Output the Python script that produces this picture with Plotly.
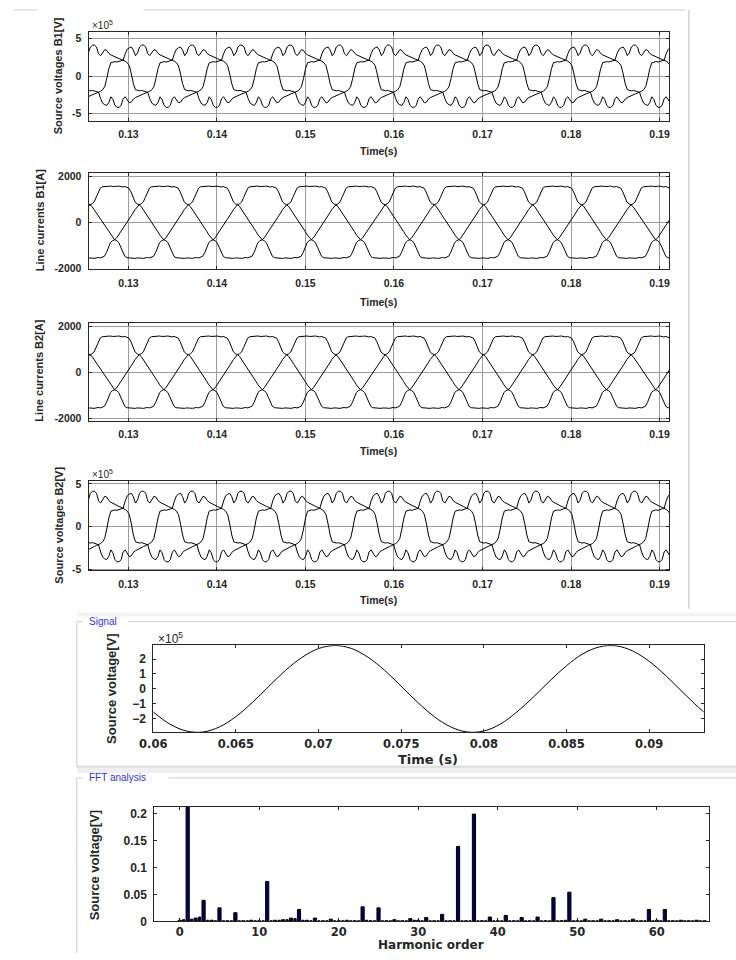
import numpy as np
import plotly.graph_objects as go

W, H = 736, 960

# ---------------- data ----------------
F_HZ = 60.0
SAMPLES_PER_PERIOD = 72          # one sample every 5 electrical degrees
N_PERIODS = 5
PHASE_SHIFT_SAMPLES = 24         # 120 degrees

V_PHASE_E5 = [
    1.80, 1.90, 1.95, 1.90, 2.00, 2.10, 2.15, 3.00, 3.60, 3.80, 3.90, 3.50,
    2.75, 3.10, 3.90, 4.15, 4.15, 3.90, 3.00, 2.75, 3.20, 3.55, 3.45, 3.05,
    2.85, 2.70, 2.55, 2.45, 2.35, 2.25, 2.15, 2.00, 1.80, 1.40, 0.30, -1.00,
    -1.80, -1.90, -1.95, -1.90, -2.00, -2.10, -2.15, -3.00, -3.60, -3.80, -3.90, -3.50,
    -2.75, -3.10, -3.90, -4.15, -4.15, -3.90, -3.00, -2.75, -3.20, -3.55, -3.45, -3.05,
    -2.85, -2.70, -2.55, -2.45, -2.35, -2.25, -2.15, -2.00, -1.80, -1.40, -0.30, 1.00,
]
I_PHASE_A = [
    0, 130, 260, 400, 550, 680, 760, 800, 880, 1080, 1320, 1480,
    1540, 1550, 1530, 1560, 1570, 1550, 1540, 1560, 1570, 1550, 1530, 1550,
    1530, 1480, 1320, 1080, 880, 800, 760, 680, 550, 400, 260, 130,
    0, -130, -260, -400, -550, -680, -760, -800, -880, -1080, -1320, -1480,
    -1540, -1550, -1530, -1560, -1570, -1550, -1540, -1560, -1570, -1550, -1530, -1550,
    -1530, -1480, -1320, -1080, -880, -800, -760, -680, -550, -400, -260, -130,
]
V_T0 = 0.12802   # time of sample 0 of phase a voltage
I_T0 = 0.12983   # time of sample 0 of phase a current

TIME_TICKS = [0.13, 0.14, 0.15, 0.16, 0.17, 0.18, 0.19]
TIME_TICK_TEXT = ["0.13", "0.14", "0.15", "0.16", "0.17", "0.18", "0.19"]
V_TICKS = [-5, 0, 5]
V_TICK_TEXT = ["-5", "0", "5"]
I_TICKS = [-2000, 0, 2000]
I_TICK_TEXT = ["-2000", "0", "2000"]

SIGNAL_T = [0.060, 0.061, 0.062, 0.063, 0.064, 0.065, 0.066, 0.067, 0.068, 0.069,
            0.070, 0.071, 0.072, 0.073, 0.074, 0.075, 0.076, 0.077, 0.078, 0.079,
            0.080, 0.081, 0.082, 0.083, 0.084, 0.085, 0.086, 0.087, 0.088, 0.089,
            0.090, 0.091, 0.092, 0.093, 0.0935]
SIGNAL_V_E5 = [-1.54, -2.35, -2.81, -2.88, -2.54, -1.85, -0.90, 0.18, 1.24, 2.11,
               2.70, 2.90, 2.70, 2.11, 1.24, 0.18, -0.90, -1.85, -2.54, -2.88,
               -2.81, -2.35, -1.54, -0.54, 0.54, 1.55, 2.35, 2.81, 2.88, 2.54,
               1.85, 0.90, -0.18, -1.24, -1.72]
SIGNAL_XTICKS = [0.06, 0.065, 0.07, 0.075, 0.08, 0.085, 0.09]
SIGNAL_XTICK_TEXT = ["0.06", "0.065", "0.07", "0.075", "0.08", "0.085", "0.09"]
SIGNAL_YTICKS = [-2, -1, 0, 1, 2]
SIGNAL_YTICK_TEXT = ["\u22122", "\u22121", "0", "1", "2"]

HARM_ORDER = list(range(0, 67))
HARM_MAG = [0.002, 0.25, 0.006, 0.039, 0.002, 0.025, 0.001, 0.016, 0.001, 0.002,
            0.001, 0.074, 0.002, 0.003, 0.006, 0.022, 0.002, 0.006, 0.001, 0.004,
            0.001, 0.002, 0.001, 0.027, 0.001, 0.025, 0.001, 0.003, 0.001, 0.005,
            0.002, 0.007, 0.001, 0.013, 0.001, 0.139, 0.001, 0.199, 0.001, 0.008,
            0.001, 0.011, 0.001, 0.007, 0.001, 0.008, 0.001, 0.044, 0.001, 0.054,
            0.001, 0.004, 0.001, 0.004, 0.001, 0.003, 0.001, 0.004, 0.001, 0.022,
            0.002, 0.022, 0.001, 0.002, 0.001, 0.002, 0.001]
HALF_ORDER = [k + 0.5 for k in range(66)]
HALF_MAG = [0.003, 0.004, 0.008, 0.002, 0.001, 0.001, 0.001, 0.001, 0.001, 0.001,
            0.001, 0.001, 0.002, 0.003, 0.005, 0.002, 0.001, 0.001, 0.001, 0.001,
            0.001, 0.001, 0.001, 0.002, 0.001, 0.001, 0.001, 0.001, 0.001, 0.002,
            0.001, 0.001, 0.001, 0.001, 0.001, 0.001, 0.001, 0.001, 0.001, 0.001,
            0.001, 0.001, 0.001, 0.001, 0.001, 0.001, 0.001, 0.001, 0.002, 0.001,
            0.001, 0.001, 0.001, 0.001, 0.001, 0.001, 0.001, 0.001, 0.001, 0.001,
            0.001, 0.001, 0.001, 0.001, 0.001, 0.001]
FFT_XTICKS = [0, 10, 20, 30, 40, 50, 60]
FFT_YTICKS = [0, 0.05, 0.1, 0.15, 0.2]
FFT_YTICK_TEXT = ["0", "0.05", "0.1", "0.15", "0.2"]

# ---------------- layout helpers ----------------
def px_x(p):
    return p / W


def px_y(p):
    return 1 - p / H


TXT = "#262626"
BOLD_FONT = "Liberation Sans, Arial, sans-serif"
WIDE_FONT = "DejaVu Sans, sans-serif"
NARROW_FONT = "Liberation Sans Narrow, Liberation Sans, sans-serif"

fig = go.Figure()

# panels: (x0, x1, y0, y1) in pixels
PANELS = {
    1: (76, 668, 29, 119),
    2: (76, 668, 172, 269),
    3: (76, 668, 323, 422),
    4: (76, 668, 483, 573),
    5: (142, 703, 649, 737),
    6: (143, 708, 812, 928),
}


def ax_name(i, kind):
    return kind if i == 1 else f"{kind}{i}"


layout_axes = {}


def add_axes(i, xr, yr, xt, xtt, yt, ytt, grid, xfont, yfont, xstand, ystand, ticklen):
    x0, x1, y0, y1 = PANELS[i]
    common = dict(showline=True, linecolor=TXT, linewidth=1, mirror="ticks",
                  ticks="inside", ticklen=ticklen, tickcolor=TXT, zeroline=False,
                  showgrid=grid, gridcolor="#9c9c9c", gridwidth=1, fixedrange=True)
    layout_axes["xaxis" if i == 1 else f"xaxis{i}"] = dict(
        domain=[px_x(x0), px_x(x1)], range=xr, anchor=ax_name(i, "y"),
        tickmode="array", tickvals=xt, ticktext=xtt, tickfont=xfont,
        ticklabelstandoff=xstand, **common)
    layout_axes["yaxis" if i == 1 else f"yaxis{i}"] = dict(
        domain=[px_y(y1), px_y(y0)], range=yr, anchor=ax_name(i, "x"),
        tickmode="array", tickvals=yt, ticktext=ytt, tickfont=yfont,
        ticklabelstandoff=ystand, **common)


top_font = dict(family=BOLD_FONT, size=10.5, color=TXT, weight="bold")
TIME_RANGE = [0.1255, 0.1911]
add_axes(1, TIME_RANGE, [-5.95, 5.95], TIME_TICKS, TIME_TICK_TEXT, V_TICKS, V_TICK_TEXT,
         True, top_font, top_font, 4, 4, 3)
add_axes(2, TIME_RANGE, [-2040, 2130], TIME_TICKS, TIME_TICK_TEXT, I_TICKS, I_TICK_TEXT,
         True, top_font, top_font, 4, 4, 3)
add_axes(3, TIME_RANGE, [-2100, 2150], TIME_TICKS, TIME_TICK_TEXT, I_TICKS, I_TICK_TEXT,
         True, top_font, top_font, 4, 4, 3)
add_axes(4, TIME_RANGE, [-5.12, 5.35], TIME_TICKS, TIME_TICK_TEXT, V_TICKS, V_TICK_TEXT,
         True, top_font, top_font, 4, 4, 3)

bx_font = dict(family=WIDE_FONT, size=11.5, color=TXT, weight="bold")
by_font = dict(family=BOLD_FONT, size=12, color=TXT, weight="bold")
add_axes(5, [0.06, 0.0933], [-2.9, 2.92], SIGNAL_XTICKS, SIGNAL_XTICK_TEXT,
         SIGNAL_YTICKS, SIGNAL_YTICK_TEXT, False, bx_font, by_font, 1, 4, 3)
add_axes(6, [-3.2, 66.5], [0, 0.213], FFT_XTICKS, [str(v) for v in FFT_XTICKS],
         FFT_YTICKS, FFT_YTICK_TEXT, False, bx_font, by_font, 0, 4, 3)

# ---------------- traces ----------------
n_pts = SAMPLES_PER_PERIOD * N_PERIODS + 1


def time_axis(t0):
    k = np.arange(n_pts) - SAMPLES_PER_PERIOD
    return t0 + k / (SAMPLES_PER_PERIOD * F_HZ)


for i, shape, t0 in [(1, V_PHASE_E5, V_T0), (2, I_PHASE_A, I_T0),
                     (3, I_PHASE_A, I_T0), (4, V_PHASE_E5, V_T0)]:
    t = time_axis(t0)
    base = np.array(shape, dtype=float)
    for shift in (0, PHASE_SHIFT_SAMPLES, -PHASE_SHIFT_SAMPLES):
        ph = np.roll(base, shift)
        y = np.append(np.tile(ph, N_PERIODS), ph[0])
        fig.add_trace(go.Scatter(x=t, y=y, mode="lines",
                                 line=dict(color="black", width=1),
                                 xaxis=ax_name(i, "x"), yaxis=ax_name(i, "y"),
                                 showlegend=False, hoverinfo="skip"))

fig.add_trace(go.Scatter(x=SIGNAL_T, y=SIGNAL_V_E5, mode="lines",
                         line=dict(color="black", width=1, shape="spline"),
                         xaxis="x5", yaxis="y5", showlegend=False, hoverinfo="skip"))

fig.add_trace(go.Bar(x=HALF_ORDER, y=HALF_MAG, width=0.28,
                     marker=dict(color="#00005c", line=dict(color="black", width=1)),
                     xaxis="x6", yaxis="y6", showlegend=False, hoverinfo="skip"))
fig.add_trace(go.Bar(x=HARM_ORDER, y=HARM_MAG, width=0.4,
                     marker=dict(color="#00005c", line=dict(color="black", width=1)),
                     xaxis="x6", yaxis="y6", showlegend=False, hoverinfo="skip"))

# ---------------- annotations ----------------
anns = []


def ann(text, x, y, size, family=BOLD_FONT, weight="bold", angle=0, color=TXT,
        xanchor="center", yanchor="middle"):
    anns.append(dict(text=text, x=px_x(x), y=px_y(y), xref="paper", yref="paper",
                     showarrow=False, textangle=angle, xanchor=xanchor, yanchor=yanchor,
                     font=dict(family=family, size=size, color=color, weight=weight)))


ann("Source voltages B1[V]", 45, 74, 11, angle=-90)
ann("Line currents B1[A]", 26, 220, 11, angle=-90)
ann("Line currents B2[A]", 26, 372, 11, angle=-90)
ann("Source voltages B2[V]", 45, 528, 11, angle=-90)
for yy in (150, 302, 453, 603):
    ann("Time(s)", 372, yy, 10.5)
ann("\u00d710<sup>5</sup>", 77, 22, 10, weight="normal", xanchor="left")
ann("\u00d710<sup>5</sup>", 77, 476, 10, weight="normal", xanchor="left")
ann("\u00d710<sup>5</sup>", 145, 642, 12, weight="normal", xanchor="left")

ann("Source voltage[V]", 100, 693, 13, family=NARROW_FONT, angle=-90)
ann("Time (s)", 422, 764, 13, family=WIDE_FONT)
ann("Source voltage[V]", 83, 871, 13, family=NARROW_FONT, angle=-90)
ann("Harmonic order", 425, 952, 12, family=WIDE_FONT)
ann("Signal", 74, 625, 10, family=BOLD_FONT, weight="normal", color="#3434c8",
    xanchor="left")
ann("FFT analysis", 74, 783, 10, family=BOLD_FONT, weight="normal", color="#3434c8",
    xanchor="left")

# ---------------- frame lines ----------------
shapes = []
GRAY = "#cfcfcf"


def hline(x0, x1, y, color=GRAY, w=1):
    shapes.append(dict(type="line", xref="paper", yref="paper", x0=px_x(x0), x1=px_x(x1),
                       y0=px_y(y), y1=px_y(y), line=dict(color=color, width=w)))


def vline(x, y0, y1, color=GRAY, w=1):
    shapes.append(dict(type="line", xref="paper", yref="paper", x0=px_x(x), x1=px_x(x),
                       y0=px_y(y0), y1=px_y(y1), line=dict(color=color, width=w)))


# window border at top
hline(0, 24, 7)
hline(132, 685, 7)
vline(688, 7, 612, color="#bdbdbd")
# gray strips between sections
shapes.append(dict(type="rect", xref="paper", yref="paper", x0=px_x(64), x1=1,
                   y0=px_y(778), y1=px_y(770), fillcolor="#efefef", line=dict(width=0),
                   layer="below"))
shapes.append(dict(type="rect", xref="paper", yref="paper", x0=px_x(64), x1=1,
                   y0=px_y(620), y1=px_y(616), fillcolor="#f2f2f2", line=dict(width=0),
                   layer="below"))
# Signal frame
hline(64, 70, 625)
hline(116, 736, 625)
vline(64, 625, 772)
hline(64, 736, 772)
# FFT frame
hline(64, 70, 783)
hline(158, 736, 783)
vline(64, 783, 960)

fig.update_layout(
    width=W, height=H, autosize=False,
    margin=dict(l=0, r=0, t=0, b=0),
    paper_bgcolor="white", plot_bgcolor="white",
    showlegend=False, bargap=0, barmode="overlay",
    annotations=anns, shapes=shapes,
    **layout_axes,
)

fig.write_html(
    "out.html",
    config={"displayModeBar": False, "staticPlot": True},
    post_script="document.body.style.margin='0px';document.body.style.overflow='hidden';",
)
